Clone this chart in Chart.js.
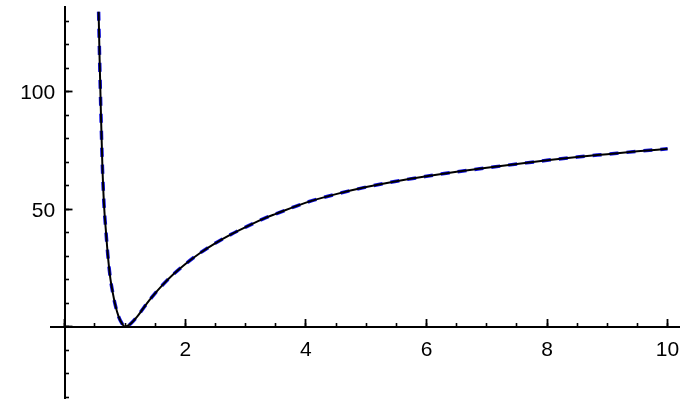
<!DOCTYPE html>
<html>
<head>
<meta charset="utf-8">
<script src="https://cdn.jsdelivr.net/npm/chart.js@4/dist/chart.umd.min.js"></script>
<style>
  html, body { margin: 0; padding: 0; background: #ffffff; }
  #c { display: block; }
</style>
</head>
<body>
<canvas id="c" width="696" height="415"></canvas>
<script>
// Values
const xValues = [0.56, 0.577, 0.597, 0.622, 0.65, 0.68, 0.713, 0.754, 0.796, 0.837, 0.892, 0.948, 1.0,
  1.06, 1.1, 1.2, 1.3, 1.4, 1.5, 1.6, 1.8, 2.0, 2.25, 2.5, 2.75, 3.0, 3.3, 3.5, 4.0, 4.5, 5.0,
  5.5, 6.0, 6.5, 7.0, 7.5, 8.0, 8.5, 9.0, 9.5, 10.0];
const yValues = [134, 113.5, 92.2, 68.8, 51.8, 41.1, 30.5, 20.7, 14.3, 9.2, 4.3, 1.4, 0,
  0.7, 1.5, 4.3, 7.8, 11.2, 14.3, 17.2, 22.3, 26.7, 31.5, 35.6, 39.2, 42.4, 46.0, 48.0, 52.8, 56.4, 59.4,
  61.9, 64.0, 65.9, 67.6, 69.2, 70.8, 72.2, 73.4, 74.6, 75.7];
const xTickLabels = [2, 4, 6, 8, 10];
const yTickLabels = [50, 100];

const points = xValues.map((x, i) => ({ x: x, y: yValues[i] }));

const X_MIN = -0.23, X_MAX = 10.19, Y_MIN = -30.3, Y_MAX = 136;
const Y_LABEL_X = -0.16;
const FONT = { family: "'Liberation Sans', Arial, sans-serif", size: 21 };

function noPad(scale) {
  scale.paddingTop = 0; scale.paddingBottom = 0;
  scale.paddingLeft = 0; scale.paddingRight = 0;
}

new Chart(document.getElementById('c'), {
  type: 'line',
  data: {
    datasets: [
      {
        data: points,
        borderColor: '#000000',
        borderWidth: 2,
        pointRadius: 0,
        cubicInterpolationMode: 'monotone',
        fill: false,
        xAxisID: 'x', yAxisID: 'y',
        order: 0
      },
      {
        data: points,
        borderColor: '#1010e8',
        borderWidth: 3.5,
        borderDash: [9, 8],
        pointRadius: 0,
        cubicInterpolationMode: 'monotone',
        fill: false,
        xAxisID: 'x', yAxisID: 'y',
        order: 1
      }
    ]
  },
  options: {
    responsive: false,
    animation: false,
    devicePixelRatio: 1,
    layout: { padding: { left: 51, right: 17, top: 7, bottom: 17 } },
    plugins: { legend: { display: false }, tooltip: { enabled: false } },
    scales: {
      x: {
        type: 'linear', min: X_MIN, max: X_MAX,
        position: { y: 0 },
        grid: { drawOnChartArea: false, drawTicks: true, tickLength: -5, tickWidth: 1.6, tickColor: '#000' },
        border: { display: true, color: '#000', width: 2 },
        ticks: { display: false, stepSize: 0.5, includeBounds: false },
        afterFit: noPad
      },
      x2: {
        type: 'linear', axis: 'x', min: X_MIN, max: X_MAX,
        position: { y: 0 },
        grid: { drawOnChartArea: false, drawTicks: true, tickLength: -8, tickWidth: 1.8, tickColor: '#000' },
        border: { display: false },
        ticks: {
          stepSize: 2, includeBounds: false, autoSkip: false, maxRotation: 0,
          padding: 19, color: '#000', font: FONT,
          callback: (v) => xTickLabels.includes(v) ? String(v) : ''
        },
        afterFit: noPad
      },
      y: {
        type: 'linear', min: Y_MIN, max: Y_MAX,
        position: { x: 0 },
        grid: { drawOnChartArea: false, drawTicks: true, tickLength: -5, tickWidth: 1.6, tickColor: '#000' },
        border: { display: true, color: '#000', width: 2 },
        ticks: { display: false, stepSize: 10, includeBounds: false },
        afterFit: noPad
      },
      y2: {
        type: 'linear', axis: 'y', min: Y_MIN, max: Y_MAX,
        position: { x: 0 },
        grid: { drawOnChartArea: false, drawTicks: true, tickLength: -7.5, tickWidth: 1.8, tickColor: '#000' },
        border: { display: false },
        ticks: { display: false, stepSize: 50, includeBounds: false },
        afterFit: noPad
      },
      yLabels: {
        type: 'linear', axis: 'y', min: Y_MIN, max: Y_MAX,
        position: { x: Y_LABEL_X },
        grid: { display: false, drawOnChartArea: false, drawTicks: false },
        border: { display: false },
        ticks: {
          stepSize: 50, includeBounds: false, autoSkip: false,
          padding: 0, labelOffset: 2, color: '#000', font: FONT,
          callback: (v) => yTickLabels.includes(v) ? String(v) : ''
        },
        afterFit: noPad
      }
    }
  }
});
</script>
</body>
</html>
